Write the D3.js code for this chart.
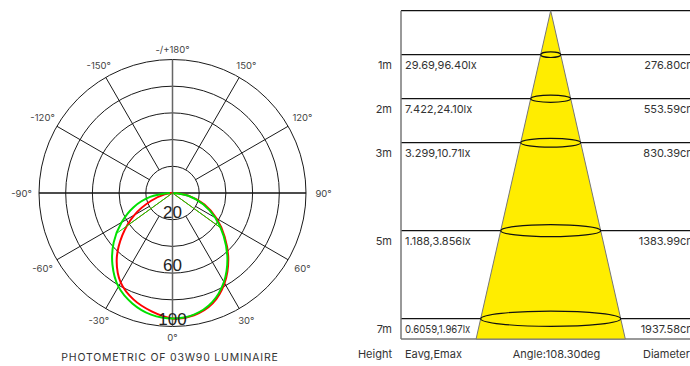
<!DOCTYPE html>
<html>
<head>
<meta charset="utf-8">
<script src="https://cdn.jsdelivr.net/npm/d3@7"></script>
<style>
  body { margin: 0; background: #fff; }
  svg { display: block; font-family: "Inter", "Noto Sans", sans-serif; }
</style>
</head>
<body>
<script>
/* Polar intensity data (cd/klm), angle 0 = straight down, left negative */
var angles = [-90, -80, -70, -60, -50, -40, -30, -20, -10, 0, 10, 20, 30, 40, 50, 60, 70, 80, 90];
var redValues = [0, 6, 17, 33, 49, 65, 77.5, 85, 90, 94, 93, 88, 78, 65, 51, 38, 25.5, 12.5, 1];
var greenValues = [2, 17, 31, 44, 57.5, 70, 81, 88, 92.5, 94, 92.5, 87, 77, 64, 50, 37, 24.5, 12, 1];
var halfAngle = 54.15; // half of beam angle 108.30

var ringValues = [20, 40, 60, 80, 100];
var ringLabels = [20, 60, 100];
var spokeAngles = [-150, -120, -60, -30, 30, 60, 120, 150];
var angleLabels = [
  { a: 180, t: "-/+180°" }, { a: -150, t: "-150°" }, { a: 150, t: "150°" },
  { a: -120, t: "-120°" }, { a: 120, t: "120°" }, { a: -90, t: "-90°" },
  { a: 90, t: "90°" }, { a: -60, t: "-60°" }, { a: 60, t: "60°" },
  { a: -30, t: "-30°" }, { a: 30, t: "30°" }, { a: 0, t: "0°" }
];
var polarTitle = "PHOTOMETRIC OF 03W90  LUMINAIRE";

/* Illuminance cone data */
var heights = [1, 2, 3, 5, 7];
var illuminance = ["29.69,96.40lx", "7.422,24.10lx", "3.299,10.71lx", "1.188,3.856lx", "0.6059,1.967lx"];
var diameters = ["276.80cm", "553.59cm", "830.39cm", "1383.99cm", "1937.58cm"];
var footer = ["Height", "Eavg,Emax", "Angle:108.30deg", "Diameter"];

var width = 690, height = 366;

var svg = d3.select("body").append("svg")
    .attr("width", width)
    .attr("height", height);

/* ---------- polar diagram ---------- */
var cx = 172.5, cy = 193;
var r = d3.scaleLinear().domain([0, 100]).range([0, 133.5]);

// angle in degrees (0 down, negative left) -> screen point
function pt(deg, v) {
  var a = deg * Math.PI / 180;
  return [cx + r(v) * Math.sin(a), cy + r(v) * Math.cos(a)];
}

var grid = svg.append("g");

grid.selectAll("circle")
  .data(ringValues)
  .enter().append("circle")
  .attr("cx", cx).attr("cy", cy)
  .attr("r", function(d) { return r(d); })
  .attr("fill", "none")
  .attr("stroke", "#1a1a1a")
  .attr("stroke-width", 1);

grid.selectAll("line.spoke")
  .data(spokeAngles)
  .enter().append("line")
  .attr("class", "spoke")
  .attr("x1", function(d) { return pt(d, ringValues[0])[0]; })
  .attr("y1", function(d) { return pt(d, ringValues[0])[1]; })
  .attr("x2", function(d) { return pt(d, 100)[0]; })
  .attr("y2", function(d) { return pt(d, 100)[1]; })
  .attr("stroke", "#1a1a1a")
  .attr("stroke-width", 1);

// horizontal -90/90 axis
grid.append("line")
  .attr("x1", pt(-90, 100)[0]).attr("y1", cy)
  .attr("x2", pt(90, 100)[0]).attr("y2", cy)
  .attr("stroke", "#111").attr("stroke-width", 1.5);

// vertical 0/180 axis
grid.append("line")
  .attr("x1", cx).attr("y1", pt(180, 100)[1])
  .attr("x2", cx).attr("y2", pt(0, 100)[1])
  .attr("stroke", "#666").attr("stroke-width", 1.5);

grid.selectAll("text.ang")
  .data(angleLabels)
  .enter().append("text")
  .attr("class", "ang")
  .attr("x", function(d) {
    var a = d.a * Math.PI / 180, rr = 144 + 7 * Math.abs(Math.sin(a));
    return cx + rr * Math.sin(a);
  })
  .attr("y", function(d) {
    var a = d.a * Math.PI / 180, rr = 144 + 7 * Math.abs(Math.sin(a));
    return cy + rr * Math.cos(a);
  })
  .attr("text-anchor", "middle")
  .attr("dominant-baseline", "central")
  .attr("font-size", 9.5)
  .attr("fill", "#444")
  .text(function(d) { return d.t; });

/* curves */
var radial = d3.lineRadial()
  .angle(function(d) { return Math.PI - d[0] * Math.PI / 180; })
  .radius(function(d) { return r(d[1]); })
  .curve(d3.curveCatmullRom);

function interp(vals, deg) {
  return d3.scaleLinear().domain(angles).range(vals)(deg);
}

var series = [
  { vals: redValues, color: "#ff0000" },
  { vals: greenValues, color: "#00e000" }
];

var curves = svg.append("g").attr("transform", "translate(" + cx + "," + cy + ")");

series.forEach(function(s) {
  // half-beam lines
  [-halfAngle, halfAngle].forEach(function(h) {
    var p = pt(h, interp(s.vals, h));
    curves.append("line")
      .attr("x1", 0).attr("y1", 0)
      .attr("x2", p[0] - cx).attr("y2", p[1] - cy)
      .attr("stroke", s.color).attr("stroke-width", 1);
  });
  curves.append("path")
    .datum(angles.map(function(a, i) { return [a, s.vals[i]]; }))
    .attr("d", radial)
    .attr("fill", "none")
    .attr("stroke", s.color)
    .attr("stroke-width", 2);
});

// ring value labels
svg.selectAll("text.ring")
  .data(ringLabels)
  .enter().append("text")
  .attr("class", "ring")
  .attr("x", cx)
  .attr("y", function(d) { return cy + r(d) - 2; })
  .attr("text-anchor", "middle")
  .attr("font-family", "Liberation Sans, sans-serif")
  .attr("font-size", 17)
  .attr("fill", "#222")
  .text(function(d) { return d; });

svg.append("text")
  .attr("x", 170).attr("y", 361)
  .attr("text-anchor", "middle")
  .attr("font-size", 10.5)
  .attr("letter-spacing", 0.8)
  .attr("fill", "#333")
  .text(polarTitle);

/* ---------- illuminance cone ---------- */
var left = 401, apexX = 550.7;
var y = d3.scaleLinear().domain([0, 7]).range([10.7, 318.7]);
var w = d3.scaleLinear().domain([0, 7]).range([0, 70]);
var baseY = 339;
var baseH = y.invert(baseY);

var cone = svg.append("g");

// row lines
cone.selectAll("line.row")
  .data([0].concat(heights))
  .enter().append("line")
  .attr("class", "row")
  .attr("x1", left).attr("x2", width)
  .attr("y1", function(d) { return y(d); })
  .attr("y2", function(d) { return y(d); })
  .attr("stroke", "#111").attr("stroke-width", 1.2);

cone.append("line")
  .attr("x1", left).attr("x2", width)
  .attr("y1", baseY).attr("y2", baseY)
  .attr("stroke", "#777").attr("stroke-width", 1.5);

cone.append("line")
  .attr("x1", left).attr("x2", left)
  .attr("y1", y(0)).attr("y2", baseY)
  .attr("stroke", "#777").attr("stroke-width", 1.5);

cone.append("path")
  .attr("d", d3.line()([[apexX, y(0)], [apexX - w(baseH), baseY], [apexX + w(baseH), baseY]]) + "Z")
  .attr("fill", "#ffed00")
  .attr("stroke", "#777")
  .attr("stroke-width", 1);

cone.selectAll("ellipse")
  .data(heights)
  .enter().append("ellipse")
  .attr("cx", apexX)
  .attr("cy", function(d) { return y(d); })
  .attr("rx", function(d) { return w(d); })
  .attr("ry", function(d) { return 2 + d * 0.8; })
  .attr("fill", "none")
  .attr("stroke", "#111")
  .attr("stroke-width", 1.2);

var labels = svg.append("g")
  .attr("font-size", 11)
  .attr("fill", "#333");

labels.selectAll("text.h")
  .data(heights)
  .enter().append("text")
  .attr("x", 392).attr("text-anchor", "end")
  .attr("y", function(d) { return y(d) + 10.5; })
  .attr("dominant-baseline", "central")
  .text(function(d) { return d + "m"; });

labels.selectAll("text.e")
  .data(heights)
  .enter().append("text")
  .attr("x", 405)
  .attr("y", function(d) { return y(d) + 10.5; })
  .attr("dominant-baseline", "central")
  .text(function(d, i) { return illuminance[i]; })
  .each(function(d) {
    // squeeze a label that would run into the cone
    var room = apexX - w(y.invert(y(d) + 10.5)) - 405 - 8;
    if (this.getComputedTextLength() > room) {
      d3.select(this).attr("textLength", room).attr("lengthAdjust", "spacingAndGlyphs");
    }
  });

labels.selectAll("text.d")
  .data(heights)
  .enter().append("text")
  .attr("x", 696).attr("text-anchor", "end")
  .attr("y", function(d) { return y(d) + 10.5; })
  .attr("dominant-baseline", "central")
  .text(function(d, i) { return diameters[i]; });

labels.append("text").attr("x", 392).attr("y", 353.5).attr("text-anchor", "end")
  .attr("dominant-baseline", "central").text(footer[0]);
labels.append("text").attr("x", 405).attr("y", 353.5)
  .attr("dominant-baseline", "central").text(footer[1]);
labels.append("text").attr("x", 556.5).attr("y", 353.5).attr("text-anchor", "middle")
  .attr("dominant-baseline", "central").text(footer[2]);
labels.append("text").attr("x", 643).attr("y", 353.5)
  .attr("dominant-baseline", "central").text(footer[3]);
</script>
</body>
</html>
